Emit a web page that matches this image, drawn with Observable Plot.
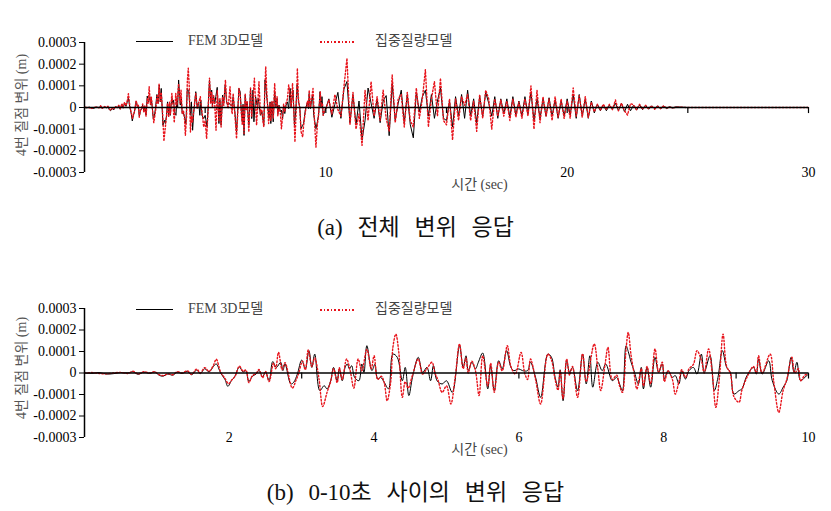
<!DOCTYPE html>
<html>
<head>
<meta charset="utf-8">
<script src="https://cdn.jsdelivr.net/npm/d3@7"></script>
<script src="https://cdn.jsdelivr.net/npm/@observablehq/plot@0.6"></script>
<style>
  html, body { margin: 0; padding: 0; background: #fff; }
  #page { position: relative; width: 831px; height: 511px; overflow: hidden; font-family: "Liberation Serif", "Noto Sans CJK KR", serif; }
  .panel { position: absolute; left: 0; width: 831px; height: 200px; }
  .leg { position: absolute; font-size: 14px; color: #444; line-height: 14px; white-space: nowrap; }
  .sw { position: absolute; }
  .ylab { position: absolute; left: -78px; width: 200px; height: 20px; line-height: 20px; text-align: center; white-space: nowrap; font-size: 14px; color: #555; transform: rotate(-90deg); transform-origin: 100px 10px; }
  .caption { position: absolute; left: 0; width: 831px; text-align: center; font-size: 23px; color: #111; word-spacing: 9px; line-height: 26px; }
</style>
</head>
<body>
<div id="page">
  <div class="panel" id="pa" style="top:0px"></div>
  <div class="caption" style="top:215px">(a) 전체 변위 응답</div>
  <div class="panel" id="pb" style="top:266px"></div>
  <div class="caption" style="top:480px">(b) 0-10초 사이의 변위 응답</div>
</div>
<script>
// ---- data (displacement in micrometres) ----
const seriesNames = ["FEM 3D모델", "집중질량모델"];
const yLabel = "4번 질점 변위 (m)";
const xLabel = "시간 (sec)";
const yTicks = [-0.0003, -0.0002, -0.0001, 0, 0.0001, 0.0002, 0.0003];
const xLabelsA = [10, 20, 30];
const xLabelsB = [2, 4, 6, 8, 10];
const xTickMarksA = [5, 10, 15, 20, 25, 30];
const xTickMarksB = [3, 6, 9, 10];

// 0-10 s, peaks/troughs [time s, displacement um]
const femEarly = [[0,0],[0.1,-2],[0.2,2],[0.3,-5],[0.4,-3],[0.5,2],[0.6,0],[0.67,6],[0.74,-6],[0.82,4],[0.9,-2],[0.97,5],[1.03,-10],[1.08,-15],[1.15,-5],[1.22,-10],[1.28,4],[1.35,-2],[1.42,8],[1.48,-8],[1.55,14],[1.6,-3],[1.66,20],[1.72,5],[1.78,30],[1.82,42],[1.88,0],[1.94,-30],[1.98,-62],[2.03,-35],[2.07,-20],[2.14,28],[2.19,5],[2.23,10],[2.27,-40],[2.32,-15],[2.37,-5],[2.41,12],[2.46,-18],[2.5,5],[2.55,-35],[2.6,53],[2.65,26],[2.71,50],[2.74,11],[2.77,42],[2.85,-51],[2.89,-43],[2.94,-5],[3.0,60],[3.05,19],[3.1,104],[3.14,26],[3.18,88],[3.25,-82],[3.31,-59],[3.35,-74],[3.4,-36],[3.44,26],[3.49,-36],[3.52,19],[3.56,-36],[3.6,26],[3.63,42],[3.66,19],[3.69,34],[3.73,-20],[3.79,-36],[3.83,42],[3.86,3],[3.9,127],[3.97,11],[4.01,40],[4.05,-28],[4.09,-20],[4.14,-43],[4.2,-74],[4.26,88],[4.32,73],[4.39,-36],[4.43,26],[4.48,-105],[4.53,-20],[4.61,73],[4.67,3],[4.73,26],[4.78,-36],[4.82,34],[4.87,-36],[4.94,-51],[5.0,-36],[5.08,-90],[5.18,127],[5.23,26],[5.27,80],[5.3,11],[5.35,50],[5.4,19],[5.44,50],[5.5,93],[5.57,-74],[5.61,34],[5.66,-82],[5.72,57],[5.77,19],[5.83,104],[5.89,26],[5.93,11],[6.0,19],[6.05,11],[6.12,11],[6.16,50],[6.23,-20],[6.3,-113],[6.4,88],[6.45,73],[6.5,-20],[6.54,-66],[6.57,15],[6.61,-129],[6.66,57],[6.7,3],[6.74,26],[6.81,-82],[6.88,88],[6.93,-51],[6.98,80],[7.02,-66],[7.09,50],[7.15,11],[7.2,42],[7.29,-36],[7.35,-20],[7.39,-51],[7.43,-82],[7.48,127],[7.51,100],[7.55,50],[7.59,11],[7.65,-51],[7.69,26],[7.72,-74],[7.77,26],[7.82,-66],[7.88,73],[7.93,3],[7.98,42],[8.01,-28],[8.06,11],[8.12,-20],[8.16,-12],[8.21,-51],[8.25,11],[8.3,-28],[8.35,11],[8.41,26],[8.46,-5],[8.52,88],[8.56,3],[8.64,80],[8.7,-82],[8.75,-20],[8.81,104],[8.87,26],[8.92,3],[8.97,-98],[9.04,-82],[9.08,-74],[9.15,-12],[9.24,26],[9.28,-5],[9.31,65],[9.36,-5],[9.45,57],[9.5,-36],[9.59,-98],[9.65,-66],[9.7,-36],[9.76,73],[9.8,3],[9.84,50],[9.89,-36],[9.95,-20],[10.0,-5]];

const lumpEarly = [[0,0],[0.1,2],[0.2,-2],[0.3,-4],[0.4,0],[0.5,3],[0.6,-2],[0.67,8],[0.74,-4],[0.82,6],[0.9,0],[0.97,6],[1.03,-8],[1.1,-12],[1.15,-3],[1.22,-8],[1.28,6],[1.35,0],[1.42,10],[1.48,-6],[1.55,18],[1.6,0],[1.66,25],[1.72,8],[1.78,35],[1.82,64],[1.88,5],[1.94,-25],[1.99,-50],[2.04,-30],[2.08,-15],[2.14,32],[2.19,8],[2.23,14],[2.27,-45],[2.32,-12],[2.37,-2],[2.41,16],[2.46,-22],[2.5,8],[2.55,-40],[2.61,45],[2.64,20],[2.68,96],[2.73,15],[2.77,48],[2.87,-70],[2.92,-35],[2.96,0],[3.01,55],[3.05,15],[3.09,107],[3.14,30],[3.18,70],[3.24,-30],[3.29,-156],[3.35,-90],[3.4,-40],[3.44,20],[3.49,-45],[3.52,25],[3.56,-30],[3.62,65],[3.67,10],[3.72,-70],[3.78,65],[3.83,10],[3.9,110],[3.96,20],[4.0,80],[4.05,-30],[4.1,-15],[4.14,-45],[4.18,-129],[4.23,-40],[4.26,120],[4.3,181],[4.34,100],[4.39,-113],[4.43,-40],[4.47,-70],[4.53,-10],[4.61,65],[4.67,-5],[4.73,20],[4.8,50],[4.84,0],[4.88,-30],[4.94,-90],[5.0,-60],[5.06,-144],[5.12,-20],[5.18,135],[5.23,20],[5.27,70],[5.3,0],[5.35,55],[5.4,10],[5.45,-105],[5.5,80],[5.57,-60],[5.61,45],[5.66,-90],[5.72,50],[5.77,10],[5.84,127],[5.89,30],[5.95,-5],[6.03,96],[6.08,0],[6.12,-30],[6.16,65],[6.23,-30],[6.3,-144],[6.4,88],[6.45,60],[6.5,-30],[6.54,-80],[6.57,10],[6.61,-120],[6.66,65],[6.7,-10],[6.74,30],[6.81,-113],[6.88,90],[6.93,-40],[7.04,135],[7.09,20],[7.13,-82],[7.19,40],[7.23,119],[7.29,-30],[7.35,-10],[7.39,-60],[7.43,-90],[7.48,110],[7.51,189],[7.55,80],[7.59,0],[7.63,-74],[7.69,20],[7.72,-60],[7.77,30],[7.82,-50],[7.88,112],[7.93,5],[7.98,50],[8.01,-40],[8.06,10],[8.12,-30],[8.16,-98],[8.21,-40],[8.25,15],[8.3,-20],[8.35,20],[8.41,40],[8.46,104],[8.52,60],[8.56,0],[8.62,112],[8.67,0],[8.72,-160],[8.77,-20],[8.82,181],[8.87,30],[8.92,0],[8.97,-110],[9.04,-136],[9.08,-80],[9.15,-20],[9.24,30],[9.28,0],[9.31,80],[9.36,0],[9.47,88],[9.52,-40],[9.59,-183],[9.65,-80],[9.7,-30],[9.77,73],[9.81,0],[9.86,20],[9.89,-36],[9.95,-10],[10.0,-5]];

// 10.125-24.5 s sampled every 0.125 s (um), then at rest
const lateTimes = d3.range(10.125, 24.55, 0.125);
const femLate = [
  40,-45,15,70,-50,85,120,-70,
  60,-80,30,-150,-60,90,20,-50,
  40,-70,30,55,-130,110,-60,20,
  80,-70,60,-80,-140,70,-20,50,
  80,-40,60,-50,30,90,-50,-60,
  30,-90,50,-40,60,-50,80,-40,
  40,-70,50,-40,70,20,-40,50,
  -50,40,-30,40,-45,50,-35,30,
  -40,50,-30,70,-60,40,-50,40,
  -40,45,-40,35,-50,30,-40,40,
  -35,60,-50,60,-40,40,-50,30,
  -25,15,-15,12,-15,10,-8,20,
  -15,20,-20,15,-15,10,-12,12,
  -10,10,-8,8,-6,8,-6,6,
  -5,4,-3,3];
const lumpLate = [
  35,-30,60,-10,-40,95,227,-80,
  70,-100,-30,-175,80,-60,120,-40,
  50,-60,80,-50,-110,150,-70,40,
  60,-90,70,-60,-90,90,-50,40,
  175,-90,40,120,-40,135,-60,-80,
  40,-150,40,-60,50,10,60,-60,
  30,-110,60,-50,80,40,-100,40,
  -40,35,-40,30,-60,40,-45,25,
  -50,40,-40,100,-100,80,-70,50,
  -40,40,-60,50,-45,40,-50,30,
  -50,90,-40,55,-45,50,-45,25,
  -20,15,-12,15,-10,15,-10,35,
  -15,20,-15,-35,18,12,-10,15,
  -8,10,-6,8,-8,6,-5,8,
  -4,4,-3,2];
const restTimes = [25, 30];
const restValues = [0, 0];

// ---- build tables ----
const um = 1e-6;
function build(early, late) {
  const rows = early.map(([t, v]) => ({t, v: v * um}));
  lateTimes.forEach((t, i) => { if (late[i] !== undefined) rows.push({t, v: late[i] * um}); });
  restTimes.forEach((t, i) => rows.push({t, v: restValues[i] * um}));
  return rows;
}
const femAll = build(femEarly, femLate);
const lumpAll = build(lumpEarly, lumpLate);

const RED = "#e8141c";
const FONT = "'Liberation Serif', 'Noto Sans CJK KR', serif";
const yFmt = d => d === 0 ? "0" : d.toFixed(4);

function panel(fem, lump, xDomain, xLabels, tickMarks, marginBottom, curve) {
  return Plot.plot({
    width: 831, height: 200,
    marginLeft: 84, marginRight: 23, marginTop: 42, marginBottom,
    style: {fontFamily: FONT, fontSize: "14px", background: "white", color: "black"},
    x: {domain: xDomain, axis: null},
    y: {domain: [-0.0003, 0.0003], axis: null},
    marks: [
      Plot.line(fem, {x: "t", y: "v", stroke: "#000", strokeWidth: 1, curve}),
      Plot.line(lump, {x: "t", y: "v", stroke: RED, strokeWidth: 1.4, strokeDasharray: "1.5,2", curve}),
      Plot.ruleY([0], {stroke: "#000", strokeWidth: 1.5}),
      Plot.ruleX(tickMarks, {x: d => d, y1: 0, y2: -0.000028, stroke: "#000", strokeWidth: 1.2}),
      Plot.ruleX([xDomain[0]], {stroke: "#000", strokeWidth: 1.5}),
      Plot.axisY({ticks: yTicks, tickFormat: yFmt, tickSize: 5, tickPadding: 3, fontSize: 14, label: null}),
      Plot.text(xLabels, {x: d => d, y: -0.0003, text: d => String(d), fontSize: 14, fill: "#000"}),
      Plot.text([xLabel], {frameAnchor: "bottom", dx: 33, dy: 16, fontSize: 14, fill: "#444"})
    ]
  });
}

function decorate(container, legendTop, ylabCenter) {
  const mk = (html) => { const d = document.createElement("div"); d.innerHTML = html; container.appendChild(d.firstChild); };
  mk(`<div class="sw" style="left:136px;top:${legendTop}px;width:37px;height:1.3px;background:#000"></div>`);
  mk(`<div class="leg" style="left:188px;top:${legendTop - 7}px">${seriesNames[0]}</div>`);
  mk(`<div class="sw" style="left:320px;top:${legendTop}px;width:36px;height:1.6px;background:repeating-linear-gradient(to right, ${RED} 0 1.6px, transparent 1.6px 3.6px)"></div>`);
  mk(`<div class="leg" style="left:375px;top:${legendTop - 7}px">${seriesNames[1]}</div>`);
  mk(`<div class="ylab" style="top:${ylabCenter - 10}px">${yLabel}</div>`);
}

const pa = document.getElementById("pa");
pa.appendChild(panel(femAll, lumpAll, [0, 30], xLabelsA, xTickMarksA, 28, "linear"));
decorate(pa, 41, 105);

const pb = document.getElementById("pb");
pb.appendChild(panel(femAll.filter(d => d.t <= 10), lumpAll.filter(d => d.t <= 10), [0, 10], xLabelsB, xTickMarksB, 29, "catmull-rom"));
decorate(pb, 43, 102);
</script>
</body>
</html>
